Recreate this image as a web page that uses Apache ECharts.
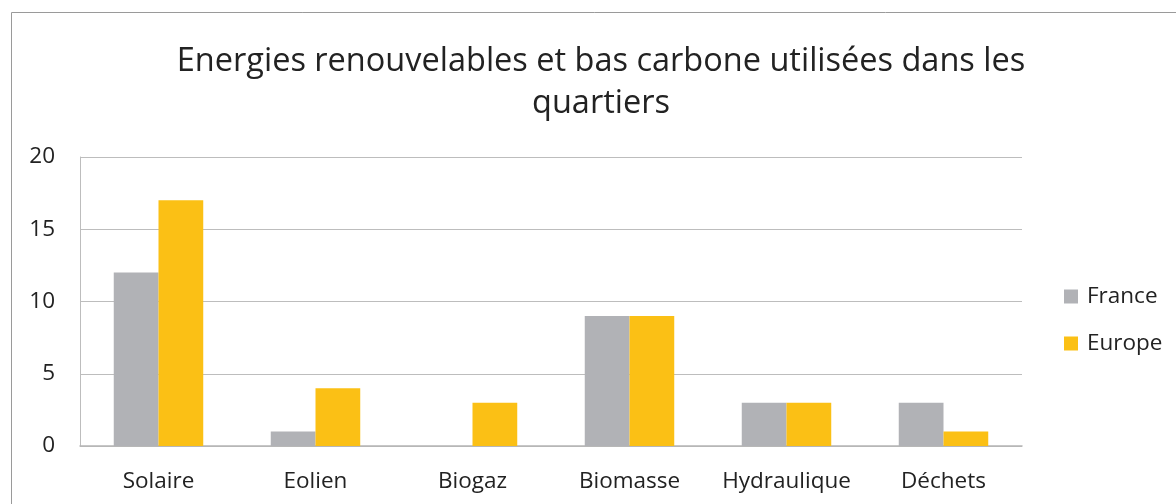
<!DOCTYPE html>
<html>
<head>
<meta charset="utf-8">
<script src="https://cdn.jsdelivr.net/npm/echarts@6/dist/echarts.min.js"></script>
<style>
  html, body { margin: 0; padding: 0; background: #fff; }
  #chart { width: 1176px; height: 504px; }
</style>
</head>
<body>
<div id="chart"></div>
<script>
var categories = ['Solaire', 'Eolien', 'Biogaz', 'Biomasse', 'Hydraulique', 'Déchets']
var franceData = [12, 1, 0, 9, 3, 3]
var europeData = [17, 4, 3, 9, 3, 1]
var titleText = 'Energies renouvelables et bas carbone utilisées dans les\nquartiers'

var fontFam = 'Open Sans, Noto Sans, sans-serif'
var chart = echarts.init(document.getElementById('chart'))

chart.setOption({
  animation: false,
  textStyle: { fontFamily: fontFam },
  graphic: [{
    type: 'rect',
    shape: { x: 11.5, y: 12.5, width: 2000, height: 2000 },
    style: { fill: 'none', stroke: '#9a9a9a', lineWidth: 1 }
  }],
  title: {
    text: titleText,
    left: 596,
    textAlign: 'center',
    top: 36,
    textStyle: {
      fontFamily: fontFam,
      fontSize: 32.5,
      fontWeight: 'normal',
      color: '#222',
      lineHeight: 42
    }
  },
  legend: {
    orient: 'vertical',
    left: 1064,
    top: 285,
    padding: 0,
    itemWidth: 14,
    itemHeight: 14,
    itemGap: 24,
    icon: 'rect',
    textStyle: { fontSize: 22.5, color: '#222', fontFamily: fontFam, padding: [0, 0, 0, 4] },
    data: ['France', 'Europe']
  },
  grid: { left: 80, right: 154, top: 157, bottom: 58, containLabel: false },
  xAxis: {
    type: 'category',
    data: categories,
    axisTick: { show: false },
    axisLine: { lineStyle: { color: '#b5b5b5', width: 1.5 } },
    axisLabel: { interval: 0, fontSize: 22.5, color: '#222', margin: 24, fontFamily: fontFam }
  },
  yAxis: {
    type: 'value',
    min: 0,
    max: 20,
    interval: 5,
    axisLine: { show: true, lineStyle: { color: '#bdbdbd' } },
    axisTick: { show: false },
    splitLine: { lineStyle: { color: '#bdbdbd' } },
    axisLabel: { fontSize: 22.5, color: '#222', margin: 25, fontFamily: fontFam }
  },
  series: [
    {
      name: 'France',
      type: 'bar',
      data: franceData,
      barGap: '0%',
      barCategoryGap: '43%',
      itemStyle: { color: '#b1b2b6' }
    },
    {
      name: 'Europe',
      type: 'bar',
      data: europeData,
      itemStyle: { color: '#fbc015' }
    }
  ]
})
</script>
</body>
</html>
